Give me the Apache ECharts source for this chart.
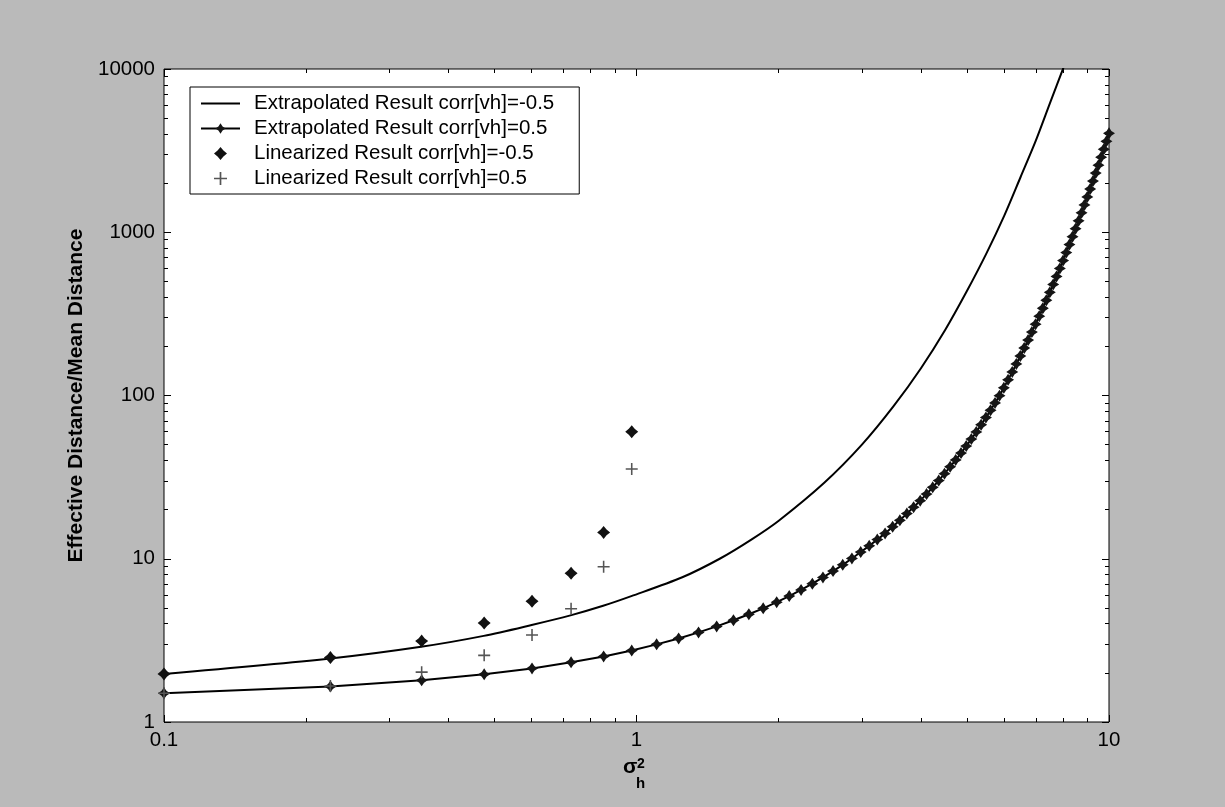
<!DOCTYPE html>
<html lang="en">
<head>
  <meta charset="UTF-8">
  <title>Effective Distance</title>
  <script src="https://cdn.jsdelivr.net/npm/echarts@6/dist/echarts.min.js"></script>
  <style>
    html, body { margin: 0; padding: 0; background: #bababa; }
    #main { width: 1225px; height: 807px; }
  </style>
</head>
<body>
  <div id="main"></div>
  <script type="text/javascript">
    // sigma_h^2 grid used by the extrapolated corr=0.5 curve (80 points)
    var sigma = [0.100, 0.225, 0.351, 0.476, 0.601, 0.727, 0.852, 0.977, 1.103, 1.228,
      1.353, 1.478, 1.604, 1.729, 1.854, 1.980, 2.105, 2.230, 2.356, 2.481,
      2.606, 2.732, 2.857, 2.982, 3.108, 3.233, 3.358, 3.484, 3.609, 3.734,
      3.859, 3.985, 4.110, 4.235, 4.361, 4.486, 4.611, 4.737, 4.862, 4.987,
      5.113, 5.238, 5.363, 5.489, 5.614, 5.739, 5.865, 5.990, 6.115, 6.241,
      6.366, 6.491, 6.616, 6.742, 6.867, 6.992, 7.118, 7.243, 7.368, 7.494,
      7.619, 7.744, 7.870, 7.995, 8.120, 8.246, 8.371, 8.496, 8.622, 8.747,
      8.872, 8.997, 9.123, 9.248, 9.373, 9.499, 9.624, 9.749, 9.875, 10.000];

    var extrapPos = [1.50, 1.65, 1.80, 1.96, 2.13, 2.32, 2.52, 2.74, 2.99, 3.25,
      3.54, 3.85, 4.20, 4.57, 4.97, 5.42, 5.91, 6.44, 7.03, 7.68,
      8.40, 9.18, 10.04, 10.99, 12.0, 13.1, 14.3, 15.7, 17.2, 18.9,
      20.7, 22.7, 24.9, 27.4, 30.1, 33.2, 36.6, 40.3, 44.4, 49.0,
      54.1, 59.8, 66.2, 73.3, 81.2, 90.0, 99.7, 111.5, 124.7, 139.5,
      156.1, 174.6, 195.4, 218.6, 244.5, 273.5, 306.0, 342.4, 383.1, 428.6,
      479.4, 536.3, 600, 671, 751, 840, 939, 1051, 1175, 1315,
      1471, 1646, 1841, 2059, 2304, 2577, 2883, 3225, 3608, 4036];

    // extrapolated corr=-0.5 curve (plain line)
    var negX = [0.1, 0.225, 0.35, 0.475, 0.6, 0.725, 0.85, 0.975, 1.25, 1.5, 1.75, 2,
      2.5, 3, 3.5, 4, 4.5, 5, 5.5, 6, 6.5, 7, 7.5, 8, 8.25];
    var extrapNeg = [1.97, 2.45, 2.89, 3.37, 3.93, 4.50, 5.15, 5.90, 7.7, 10.0, 13.1, 17.1,
      29.3, 50, 86, 147, 252, 435, 740, 1260, 2180, 3640, 6180, 10100, 13000];

    // linearized results
    var linX = [0.100, 0.225, 0.351, 0.476, 0.601, 0.727, 0.852, 0.977];
    var linNeg = [1.97, 2.48, 3.13, 4.04, 5.49, 8.15, 14.5, 60.0];
    var linPos = [1.50, 1.66, 2.02, 2.56, 3.41, 4.94, 8.94, 35.5];

    var names = ['Extrapolated Result corr[vh]=-0.5', 'Extrapolated Result corr[vh]=0.5',
      'Linearized Result corr[vh]=-0.5', 'Linearized Result corr[vh]=0.5'];

    // tick positions
    var majorX = [0.1, 1, 10];
    var minorX = [0.2, 0.3, 0.4, 0.5, 0.6, 0.7, 0.8, 0.9, 2, 3, 4, 5, 6, 7, 8, 9];
    var majorY = [1, 10, 100, 1000, 10000];
    var minorY = [2, 3, 4, 5, 6, 7, 8, 9, 20, 30, 40, 50, 60, 70, 80, 90,
      200, 300, 400, 500, 600, 700, 800, 900, 2000, 3000, 4000, 5000, 6000, 7000, 8000, 9000];

    var FONT = 'Liberation Sans, Arial, Helvetica, sans-serif';
    var star = 'path://M0,-10 L4,-4 L10,0 L4,4 L0,10 L-4,4 L-10,0 L-4,-4 Z';
    var diamond = 'path://M0,-10 L4.5,-4.5 L10,0 L4.5,4.5 L0,10 L-4.5,4.5 L-10,0 L-4.5,-4.5 Z';
    var plus = 'path://M-1.3,-10 L1.3,-10 L1.3,-1.3 L10,-1.3 L10,1.3 L1.3,1.3 L1.3,10 L-1.3,10 L-1.3,1.3 L-10,1.3 L-10,-1.3 L-1.3,-1.3 Z';

    function fmt(v) {
      return String(Math.round(v * 1000) / 1000);
    }

    function axis(pos, min, max, ticks, len, showLabel) {
      return {
        type: 'log',
        logBase: 10,
        min: min,
        max: max,
        position: pos,
        axisLine: { show: false },
        axisTick: { show: true, inside: true, length: len, customValues: ticks,
          lineStyle: { color: '#000', width: 1 } },
        axisLabel: { show: showLabel, customValues: ticks, formatter: fmt,
          color: '#000', fontFamily: FONT, fontSize: 20.5,
          margin: (pos === 'bottom') ? 8 : 9 },
        splitLine: { show: false },
        minorTick: { show: false },
        minorSplitLine: { show: false }
      };
    }

    var myChart = echarts.init(document.getElementById('main'));

    var xAxes = [
      axis('bottom', 0.1, 10, majorX, 7, true),
      axis('bottom', 0.1, 10, minorX, 4, false),
      axis('top', 0.1, 10, majorX, 7, false),
      axis('top', 0.1, 10, minorX, 4, false)
    ];
    var yAxes = [
      axis('left', 1, 10000, majorY, 7, true),
      axis('left', 1, 10000, minorY, 4, false),
      axis('right', 1, 10000, majorY, 7, false),
      axis('right', 1, 10000, minorY, 4, false)
    ];
    yAxes[0].name = 'Effective Distance/Mean Distance';
    yAxes[0].nameLocation = 'middle';
    yAxes[0].nameGap = 72;
    yAxes[0].nameTextStyle = { fontFamily: FONT, fontSize: 21, fontWeight: 'bold', color: '#000' };

    var option = {
      backgroundColor: '#bababa',
      animation: false,
      grid: {
        left: 164, right: 116, top: 69, bottom: 85,
        show: true, backgroundColor: '#fff', borderColor: '#000', borderWidth: 1
      },
      legend: {
        data: [{ name: names[0], itemStyle: { opacity: 0 } }, names[1], names[2], names[3]],
        orient: 'vertical',
        left: 190,
        top: 87,
        backgroundColor: '#fff',
        borderColor: '#000',
        borderWidth: 1,
        borderRadius: 0,
        padding: [6, 25, 5, 10],
        itemWidth: 39,
        itemHeight: 13,
        itemGap: 4,
        textStyle: { fontFamily: FONT, fontSize: 20.5, lineHeight: 21, color: '#000', padding: [0, 0, 0, 9] }
      },
      xAxis: xAxes,
      yAxis: yAxes,
      graphic: [
        { type: 'text', left: 623, top: 757, style: { text: 'σ', font: 'bold 21px ' + FONT, fill: '#000' } },
        { type: 'text', left: 637, top: 757, style: { text: '2', font: 'bold 14px ' + FONT, fill: '#000' } },
        { type: 'text', left: 636, top: 776, style: { text: 'h', font: 'bold 15px ' + FONT, fill: '#000' } }
      ],
      series: [{
        name: names[0],
        type: 'line',
        symbol: 'none',
        smooth: 0.3,
        data: negX.map(function(x, i) { return [x, extrapNeg[i]]; }),
        lineStyle: { color: '#000', width: 2 },
        itemStyle: { color: '#000' },
        z: 2
      }, {
        name: names[1],
        type: 'line',
        symbol: star,
        symbolSize: 12,
        data: sigma.map(function(x, i) { return [x, extrapPos[i]]; }),
        lineStyle: { color: '#000', width: 2 },
        itemStyle: { color: '#151515' },
        z: 3
      }, {
        name: names[2],
        type: 'scatter',
        symbol: diamond,
        symbolSize: 13,
        data: linX.map(function(x, i) { return [x, linNeg[i]]; }),
        itemStyle: { color: '#111', opacity: 1 },
        z: 4
      }, {
        name: names[3],
        type: 'scatter',
        symbol: plus,
        symbolSize: 12,
        data: linX.map(function(x, i) { return [x, linPos[i]]; }),
        itemStyle: { color: '#555', opacity: 1 },
        z: 4
      }]
    };

    myChart.setOption(option);

    window.onresize = function() {
      myChart.resize();
    }
  </script>
</body>
</html>
